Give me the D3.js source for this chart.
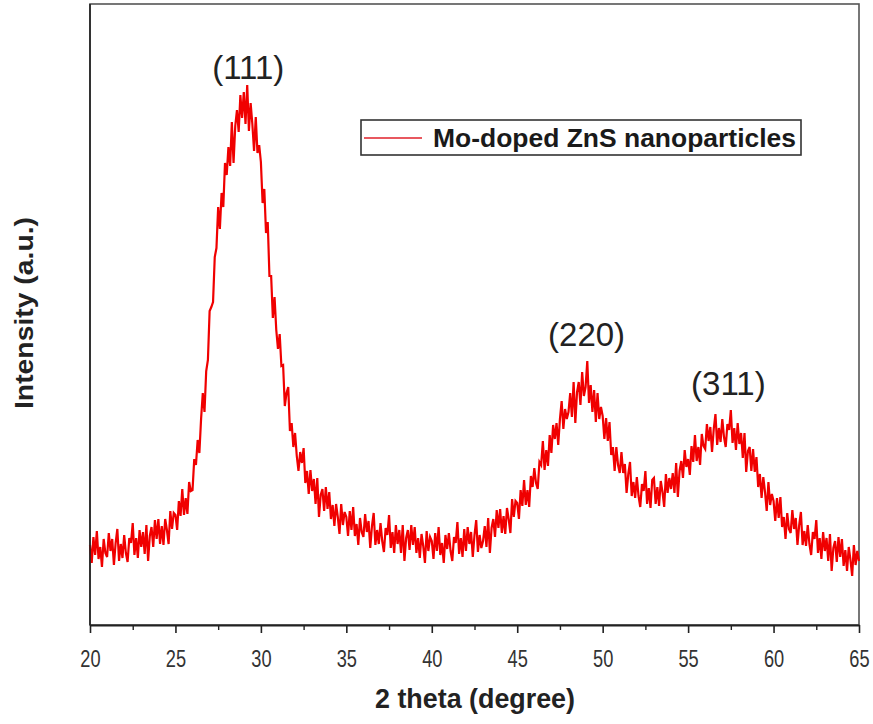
<!DOCTYPE html>
<html>
<head>
<meta charset="utf-8">
<script src="https://cdn.jsdelivr.net/npm/d3@7"></script>
<style>
  html, body { margin: 0; padding: 0; background: #fff; }
  svg { display: block; }
  text { font-family: "Liberation Sans", Arial, sans-serif; }
</style>
</head>
<body>
<svg id="chart" width="873" height="724"></svg>
<script>
// ---- data ----
const thetaStart = 20;      // degrees, first sample
const thetaStep = 0.1;      // degrees between samples
// intensity (a.u.), one value per 0.1 degree from 20.0 to 65.0
const intensity = [
  80, 62, 88, 70, 94, 66, 78, 58, 86, 72,
  68, 92, 74, 86, 60, 82, 96, 64, 81, 67,
  90, 72, 63, 87, 82, 102, 70, 87, 67, 95,
  78, 93, 71, 100, 64, 89, 98, 78, 105, 86,
  106, 81, 99, 80, 106, 95, 81, 114, 96, 112,
  110, 95, 124, 109, 136, 110, 127, 111, 143, 134,
  135, 166, 160, 185, 172, 206, 232, 213, 254, 265,
  314, 318, 323, 368, 377, 418, 396, 432, 418, 462,
  450, 478, 459, 503, 462, 499, 515, 493, 530, 507,
  533, 501, 540, 494, 522, 501, 474, 508, 472, 480,
  463, 422, 436, 392, 403, 349, 349, 307, 328, 295,
  276, 291, 259, 260, 219, 232, 238, 194, 202, 178,
  192, 169, 154, 173, 162, 177, 142, 154, 131, 155,
  134, 146, 121, 147, 108, 130, 136, 114, 138, 116,
  133, 106, 120, 99, 121, 108, 91, 121, 100, 113,
  108, 89, 114, 95, 118, 89, 101, 80, 107, 93,
  88, 111, 93, 104, 77, 99, 112, 80, 95, 81,
  102, 84, 73, 97, 90, 110, 77, 93, 72, 100,
  81, 95, 72, 100, 64, 87, 95, 75, 100, 80,
  98, 72, 87, 67, 91, 79, 62, 94, 74, 88,
  84, 66, 92, 74, 98, 70, 82, 62, 90, 76,
  92, 74, 64, 88, 82, 103, 71, 87, 68, 96,
  74, 98, 81, 93, 68, 90, 105, 73, 90, 77,
  84, 99, 78, 107, 72, 97, 106, 88, 115, 97,
  116, 92, 109, 91, 117, 106, 92, 126, 108, 124,
  122, 106, 135, 119, 145, 120, 135, 118, 149, 138,
  157, 142, 136, 163, 160, 184, 155, 175, 159, 190,
  172, 200, 186, 202, 180, 206, 224, 196, 216, 206,
  213, 232, 208, 243, 202, 233, 243, 220, 253, 229,
  238, 264, 222, 240, 213, 235, 203, 232, 206, 218,
  209, 186, 207, 184, 203, 170, 178, 154, 178, 160,
  152, 173, 152, 161, 132, 151, 163, 129, 143, 127,
  148, 129, 118, 141, 134, 154, 121, 137, 117, 145,
  147, 121, 138, 119, 144, 133, 118, 151, 132, 147,
  136, 152, 132, 162, 128, 154, 164, 147, 175, 158,
  166, 150, 179, 163, 190, 164, 178, 160, 191, 179,
  176, 201, 184, 198, 173, 196, 211, 180, 197, 183,
  206, 188, 178, 201, 195, 215, 182, 197, 175, 202,
  181, 192, 167, 192, 153, 174, 178, 154, 176, 153,
  168, 138, 151, 127, 148, 133, 114, 143, 120, 131,
  124, 104, 127, 107, 128, 98, 108, 86, 112, 96,
  92, 115, 96, 107, 80, 100, 113, 80, 94, 79,
  100, 81, 70, 93, 86, 105, 72, 87, 66, 93,
  74, 87, 64, 91, 54, 77, 84, 63, 88, 68,
  86, 59, 75, 54, 78, 65, 49, 80, 60, 74,
  64
];
const xTicks = [20, 25, 30, 35, 40, 45, 50, 55, 60, 65];
const xMinorTicks = [22.5, 27.5, 32.5, 37.5, 42.5, 47.5, 52.5, 57.5, 62.5];
const peakLabels = ["(111)", "(220)", "(311)"];
const peakPositions = [29.2, 49.0, 57.3];
const seriesName = "Mo-doped ZnS nanoparticles";
const xTitle = "2 theta (degree)";
const yTitle = "Intensity (a.u.)";

// ---- layout ----
const svg = d3.select("#chart");
const L = 90, R = 859, T = 4, B = 625;

const x = d3.scaleLinear().domain([20, 65]).range([L, R]);
const y = d3.scaleLinear().domain([0, 620]).range([B, B - 620]);

// frame (top and right)
svg.append("rect")
  .attr("x", L).attr("y", T).attr("width", R - L).attr("height", B - T)
  .attr("fill", "none").attr("stroke", "#555").attr("stroke-width", 1.6);

// data line
const line = d3.line()
  .x((d, i) => x(thetaStart + i * thetaStep))
  .y(d => y(d));

svg.append("path")
  .datum(intensity)
  .attr("d", line)
  .attr("fill", "none")
  .attr("stroke", "#f00000")
  .attr("stroke-width", 2.2)
  .attr("stroke-linejoin", "miter");

// left axis line (no ticks)
svg.append("line").attr("x1", L).attr("x2", L).attr("y1", T).attr("y2", B)
  .attr("stroke", "#222").attr("stroke-width", 1.6);

// bottom axis
const xAxis = d3.axisBottom(x).tickValues(xTicks).tickSize(8).tickSizeOuter(0)
  .tickFormat(d3.format("d"));
const gx = svg.append("g").attr("transform", `translate(0,${B})`).call(xAxis);
gx.select(".domain").attr("stroke", "#222").attr("stroke-width", 1.8);
gx.selectAll(".tick line").attr("stroke", "#222").attr("stroke-width", 1.6);
gx.selectAll(".tick text")
  .attr("y", 0).attr("dy", 0)
  .attr("transform", "translate(0,42) scale(0.76,1)")
  .attr("font-size", 24).attr("fill", "#333")
  .attr("font-family", "'Liberation Sans', Arial, sans-serif");

const xMinor = d3.axisBottom(x).tickValues(xMinorTicks).tickSize(5).tickFormat("");
const gxm = svg.append("g").attr("transform", `translate(0,${B})`).call(xMinor);
gxm.select(".domain").remove();
gxm.selectAll(".tick line").attr("stroke", "#222").attr("stroke-width", 1.4);

// axis titles
svg.append("text")
  .attr("x", 475).attr("y", 708)
  .attr("text-anchor", "middle")
  .attr("font-size", 28).attr("font-weight", "bold").attr("fill", "#222")
  .attr("textLength", 200).attr("lengthAdjust", "spacingAndGlyphs")
  .text(xTitle);

svg.append("text")
  .attr("transform", "translate(33,313) rotate(-90)")
  .attr("text-anchor", "middle")
  .attr("font-size", 25).attr("font-weight", "bold").attr("fill", "#222")
  .attr("textLength", 192).attr("lengthAdjust", "spacingAndGlyphs")
  .text(yTitle);

// peak labels
const peakBaselines = [79, 346, 395];
svg.selectAll("text.peak")
  .data(peakLabels)
  .enter().append("text")
  .attr("class", "peak")
  .attr("x", (d, i) => x(peakPositions[i]) + 1)
  .attr("y", (d, i) => peakBaselines[i])
  .attr("text-anchor", "middle")
  .attr("font-size", 33).attr("fill", "#222")
  .text(d => d);

// legend
const lg = svg.append("g");
lg.append("rect").attr("x", 361).attr("y", 120).attr("width", 440).attr("height", 35)
  .attr("fill", "#fff").attr("stroke", "#333").attr("stroke-width", 1.6);
lg.append("line").attr("x1", 364).attr("x2", 422).attr("y1", 138).attr("y2", 138)
  .attr("stroke", "#e0202a").attr("stroke-width", 1.6);
lg.append("text").attr("x", 433).attr("y", 147)
  .attr("font-size", 26).attr("font-weight", "bold").attr("fill", "#1a1a1a")
  .attr("textLength", 363).attr("lengthAdjust", "spacingAndGlyphs")
  .text(seriesName);
</script>
</body>
</html>
